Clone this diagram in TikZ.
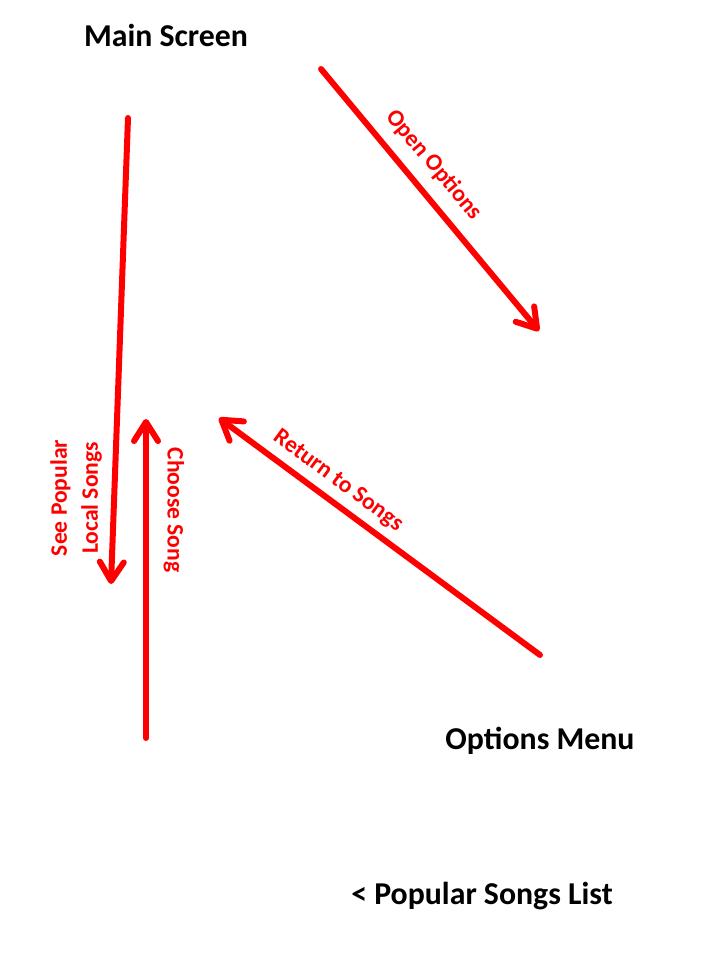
\documentclass[tikz,border=0pt]{standalone}
\usepackage{fontspec}
\setmainfont{Carlito}
\usetikzlibrary{arrows.meta}
\definecolor{arr}{RGB}{255,0,0}
\tikzset{
  title/.style={font=\bfseries\fontsize{31.8}{36}\selectfont, text=black, inner sep=0pt},
  lbl/.style={font=\bfseries\fontsize{23.6}{31}\selectfont, text=arr, inner sep=0pt, align=center},
  flow/.style={draw=arr, line width=6pt, line cap=round, line join=round,
    -{Straight Barb[length=19pt, width=24pt, line width=6pt, round]}}
}
\begin{document}
\begin{tikzpicture}[x=1pt, y=-1pt]
\useasboundingbox (0,0) rectangle (720,960);
\node[title] (main) at (166,35) {Main Screen};
\node[title] (opts) at (540,741) {Options Menu};
\node[title] (list) at (482,896) {< Popular Songs List};

\coordinate (a1) at (128,118);
\coordinate (a2) at (111,584);
\coordinate (b1) at (146,738);
\coordinate (b2) at (146,419);
\coordinate (c1) at (540,655);
\coordinate (c2) at (219,418);
\coordinate (d1) at (321,69);
\coordinate (d2) at (539,331);

\draw[flow] (a1) -- (a2);
\draw[flow] (b1) -- (b2);
\draw[flow] (c1) -- (c2);
\draw[flow] (d1) -- (d2);

\node[lbl, rotate=90] (lsee) at (76,498) {See Popular\\Local Songs};
\node[lbl, rotate=-90] (lchoose) at (174,510) {Choose Song};
\node[lbl, rotate=-36.4] (lret) at (338,481) {Return to Songs};
\node[lbl, rotate=-50.1] (lopen) at (434,165) {Open Options};
\end{tikzpicture}
\end{document}
